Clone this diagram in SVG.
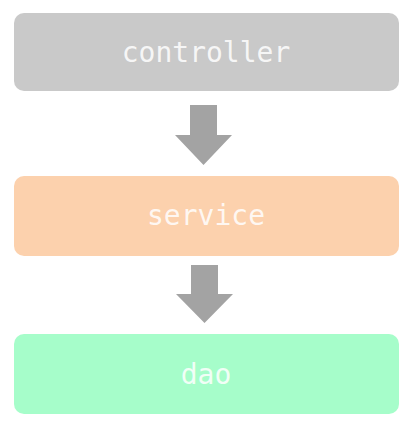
<svg xmlns="http://www.w3.org/2000/svg" width="408" height="426" viewBox="0 0 408 426">
<style>
.lbl{font-family:"DejaVu Sans Mono",monospace;font-size:28px;fill:#ffffff;fill-opacity:0.85;text-anchor:middle}
.arr{fill:#a3a3a3}
</style>
<rect width="408" height="426" fill="#ffffff"/>
<g id="controller"><rect x="14" y="13" width="385" height="78" rx="10" fill="#c9c9c9"/><text class="lbl" x="206" y="62">controller</text></g>
<g id="service"><rect x="14" y="176" width="385" height="80" rx="10" fill="#fcd1ad"/><text class="lbl" x="206" y="225">service</text></g>
<g id="dao"><rect x="14" y="334" width="385" height="80" rx="10" fill="#a6fdca"/><text class="lbl" x="206" y="384">dao</text></g>
<g id="connectors">
<path class="arr" d="M190 105H217V135H232L203.5 165L175 135H190Z"/>
<path class="arr" d="M191 265H218V294H233L204.5 323L176 294H191Z"/>
</g>
</svg>
